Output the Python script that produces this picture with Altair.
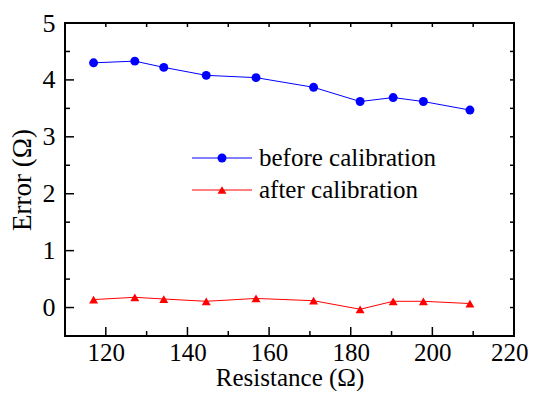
import altair as alt
import pandas as pd

# ---- data ----
resistance = [117.0, 127.1, 134.2, 144.6, 156.8, 170.9, 182.3, 190.4, 197.8, 209.2]
before = [4.30, 4.33, 4.22, 4.08, 4.04, 3.87, 3.62, 3.69, 3.62, 3.47]
after = [0.14, 0.18, 0.15, 0.11, 0.16, 0.12, -0.03, 0.11, 0.11, 0.07]
series = ["before calibration", "after calibration"]
colors = ["#0000FF", "#FF0000"]
shapes = ["circle", "triangle-up"]

x_major = [120, 140, 160, 180, 200, 220]
x_minor = [130, 150, 170, 190, 210]
x_top = [120, 130, 140, 150, 160, 170, 180, 190, 200, 210]
y_major = [0, 1, 2, 3, 4, 5]
y_minor = [0.5, 1.5, 2.5, 3.5, 4.5]
y_right = [0, 0.5, 1, 1.5, 2, 2.5, 3, 3.5, 4, 4.5]

W, H = 449, 313
FONT = "Liberation Serif"

xs = alt.Scale(domain=[110, 220], nice=False, zero=False)
ys = alt.Scale(domain=[-0.5, 5], nice=False, zero=False)

x_axis = alt.Axis(values=x_major, ticks=False, domain=False, grid=False,
                  labelFont=FONT, labelFontSize=25, labelColor="black", labelPadding=4,
                  labelFlush=1, labelFlushOffset=14, labelOverlap=False,
                  title="Resistance (Ω)", titleFont=FONT, titleFontSize=25,
                  titleFontWeight="normal", titleColor="black", titlePadding=0)
y_axis = alt.Axis(values=y_major, ticks=False, domain=False, grid=False,
                  labelFont=FONT, labelFontSize=26, labelColor="black", labelPadding=10,
                  labelFlush=False, labelOverlap=False,
                  title="Error (Ω)", titleFont=FONT, titleFontSize=27,
                  titleFontWeight="normal", titleColor="black", titlePadding=6)

X = alt.X("x:Q", scale=xs, axis=x_axis)
Y = alt.Y("y:Q", scale=ys, axis=y_axis)

rows = []
for name, vals in zip(series, [before, after]):
    for r, v in zip(resistance, vals):
        rows.append({"x": r, "y": v, "series": name})
df = pd.DataFrame(rows)

color = alt.Color("series:N", scale=alt.Scale(domain=series, range=colors), legend=None)
shape = alt.Shape("series:N", scale=alt.Scale(domain=series, range=shapes), legend=None)

lines = alt.Chart(df).mark_line(strokeWidth=1).encode(x=X, y=Y, color=color, detail="series:N")
points = alt.Chart(df).mark_point(filled=True, size=80, opacity=1).encode(
    x=X, y=Y, color=color, shape=shape)


def xticks(vals, y0, y1):
    return alt.Chart(pd.DataFrame({"x": vals})).mark_rule(color="black", strokeWidth=1.5).encode(
        x=X, y=alt.value(y0), y2=alt.value(y1))


def yticks(vals, x0, x1):
    return alt.Chart(pd.DataFrame({"y": vals})).mark_rule(color="black", strokeWidth=1.5).encode(
        y=Y, x=alt.value(x0), x2=alt.value(x1))


tick_layers = [
    xticks(x_major, H, H - 9),
    xticks(x_minor, H, H - 5),
    xticks(x_top, 0, 4),
    yticks(y_major, 0, 9),
    yticks(y_minor, 0, 5),
    yticks(y_right, W, W - 4),
]

legend_layers = []
for i, (name, col, shp) in enumerate(zip(series, colors, shapes)):
    ly = 135 + 32 * i
    ldf = pd.DataFrame({"label": [name]})
    legend_layers.append(alt.Chart(ldf).mark_rule(color=col, strokeWidth=1).encode(
        x=alt.value(127), x2=alt.value(187), y=alt.value(ly)))
    legend_layers.append(alt.Chart(ldf).mark_point(filled=True, size=80, shape=shp, color=col, opacity=1).encode(
        x=alt.value(157), y=alt.value(ly)))
    legend_layers.append(alt.Chart(ldf).mark_text(align="left", baseline="middle", font=FONT,
                                                   fontSize=25, color="black").encode(
        x=alt.value(194), y=alt.value(ly), text="label:N"))

chart = alt.layer(lines, points, *tick_layers, *legend_layers).properties(
    width=W, height=H,
    autosize=alt.AutoSizeParams(type="none"),
    padding={"left": 57, "top": 15, "right": 14, "bottom": 55},
).configure(font=FONT).configure_axis(labelFont=FONT, titleFont=FONT).configure_text(
    font=FONT).configure_view(stroke="black", strokeWidth=2)

chart.save("out.html", embed_options={"renderer": "svg", "actions": False})
